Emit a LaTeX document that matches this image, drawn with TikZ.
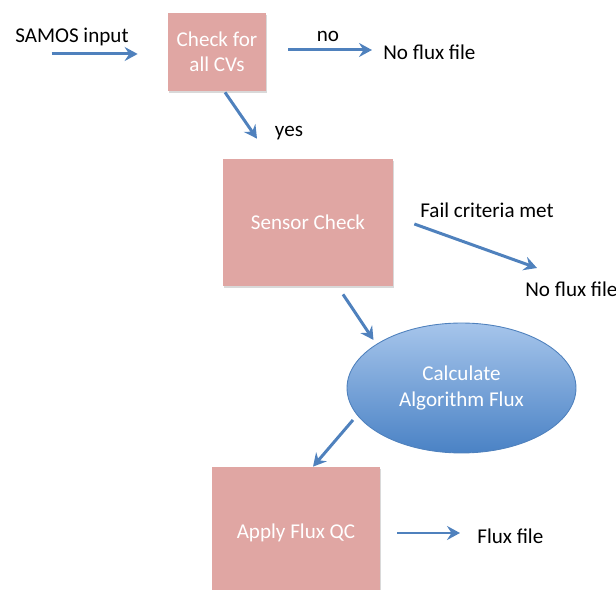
\documentclass[tikz,border=0pt]{standalone}
\usepackage{fontspec}
\setmainfont{Carlito}
\usepackage{tikz}
\usetikzlibrary{positioning,arrows.meta,calc,shapes.geometric,shadows}
\definecolor{boxpink}{RGB}{224,166,163}
\definecolor{flowblue}{RGB}{79,129,189}
\definecolor{ovaltop}{RGB}{166,197,235}
\definecolor{ovalbot}{RGB}{74,130,197}
\tikzset{
  flowchart/.style={x=0.02cm,
    y=-0.02cm,
    font=\fontsize{12}{14.5}\selectfont},
  procbox/.style={rectangle,fill=boxpink,text=white,align=center,
    drop shadow={shadow xshift=0.6pt,shadow yshift=-1pt,opacity=0.3}},
  calcoval/.style={ellipse,draw=flowblue,line width=0.5pt,top color=ovaltop,
    bottom color=ovalbot,text=white,align=center,inner sep=0pt},
  plain/.style={inner sep=0pt,text=black},
  flow/.style={-{Stealth[length=2.6mm,width=2.8mm,inset=0.9mm]},draw=flowblue,line width=1.7pt}
}

\begin{document}
\begin{tikzpicture}[flowchart]
      \useasboundingbox (0,0) rectangle (616,590);
      \clip (0,0) rectangle (616,590);
      % boxes and oval
      \node[procbox] (chk) [minimum width=1.96cm, minimum height=1.56cm] at (217,52) {Check for\\all CVs};
      \node[procbox] (sens) [minimum width=3.4cm, minimum height=2.54cm] at (308,222.5) {Sensor Check};
      \node[calcoval] (calc) [minimum width=4.58cm, minimum height=2.6cm] at (461.5,388) {Calculate\\Algorithm Flux};
      \node[procbox] (apply) [minimum width=3.36cm, minimum height=2.64cm] at (296,533) {Apply Flux QC};
      % plain texts
      \node[plain] (samos) at (72,37) {SAMOS input};
      \node[plain] (no) at (328,36) {no};
      \node[plain] (nofile1) [anchor=west] at (383,52) {No flux file};
      \node[plain] (yes) at (289,133) {yes};
      \node[plain] (fail) at (487,210) {Fail criteria met};
      \node[plain] (nofile2) [anchor=west] at (525,289) {No flux file};
      \node[plain] (flux) [anchor=west] at (477,536) {Flux file};
      % arrows
      \draw[flow] ($(chk.west)+(-116,2)$) to ($(chk.west)+(-30,2)$);
      \draw[flow] ($(chk.east)+(22,-2)$) to ($(nofile1.west)+(-11,-2)$);
      \draw[flow] ($(chk.south)+(8,1)$) to ($(sens.north)+(-51,-20)$);
      \draw[flow] ($(sens.east)+(21,1.5)$) to ($(nofile2.west)+(12,-21)$);
      \draw[flow] ($(sens.south)+(35,8)$) to ($(calc.center)+(-88,-48)$);
      \draw[flow] ($(calc.center)+(-108.5,32)$) to ($(apply.north)+(17,0)$);
      \draw[flow] ($(apply.east)+(17,0)$) to ($(flux.west)+(-17,-3)$);
%     \draw[flow] (samos) to (chk);
\end{tikzpicture}
\end{document}
